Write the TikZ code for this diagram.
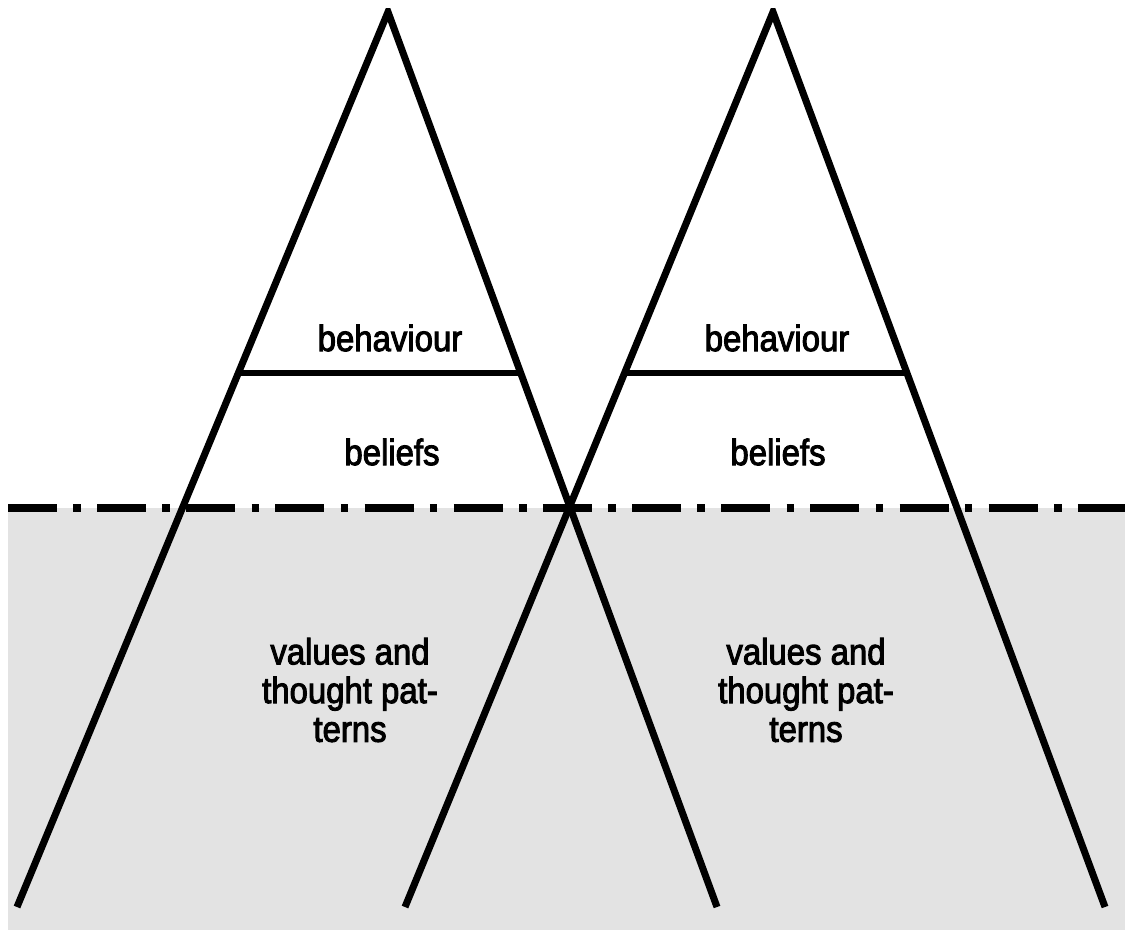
\documentclass[tikz,border=0pt]{standalone}
\usepackage{fontspec}
\setmainfont{Liberation Sans}
\newfontfamily\bergfont[FakeBold=2.6,FakeStretch=0.9]{Liberation Sans}
\usetikzlibrary{calc}
\definecolor{seagray}{RGB}{227,227,227}
\tikzset{
  leg/.style={line width=2pt},
  shelf/.style={line width=1.7pt},
  waterline/.style={line width=2pt, dash pattern=on 4.9mm off 1.63mm on 0.75mm off 1.63mm},
  layertext/.style={font=\bergfont\fontsize{10.4}{11}\selectfont, align=center}
}
\begin{document}
\begin{tikzpicture}[x=0.01cm,y=-0.01cm]
    \useasboundingbox (0,0) rectangle (1125,930);

    % Water below the line
    \fill[seagray] (8,508) rectangle (1125,930);
    \coordinate (shoreL) at (8,508);
    \coordinate (shoreR) at (1125,508);
    \draw[waterline] (shoreL) -- (shoreR);

    % Iceberg corners
    \coordinate (apexA) at (388,12);
    \coordinate (footAl) at (17,907);
    \coordinate (footAr) at (717,907);
    \coordinate (apexB) at (773,12);
    \coordinate (footBl) at (405,907);
    \coordinate (footBr) at (1105,907);

    % Iceberg sides
    \begin{scope}
        \clip (0,8) rectangle (1125,930);
        \draw[leg] (footAl) -- (apexA) -- (footAr);
        \draw[leg] (footBl) -- (apexB) -- (footBr);
    \end{scope}

    % Behaviour / beliefs split
    \draw[shelf] ($(apexA)!0.4031!(footAl)$) -- ($(apexA)!0.4031!(footAr)$);
    \draw[shelf] ($(apexB)!0.4031!(footBl)$) -- ($(apexB)!0.4031!(footBr)$);

    % Layers
    \node[layertext] (behavA) at (390,338) {behaviour};
    \node[layertext] (beliefA) at (392,452) {beliefs};
    \node[layertext] (valueA) at (350,690) {values and\\thought pat-\\terns};
    \node[layertext] (behavB) at (777,338) {behaviour};
    \node[layertext] (beliefB) at (778,452) {beliefs};
    \node[layertext] (valueB) at (806,690) {values and\\thought pat-\\terns};
\end{tikzpicture}
\end{document}
